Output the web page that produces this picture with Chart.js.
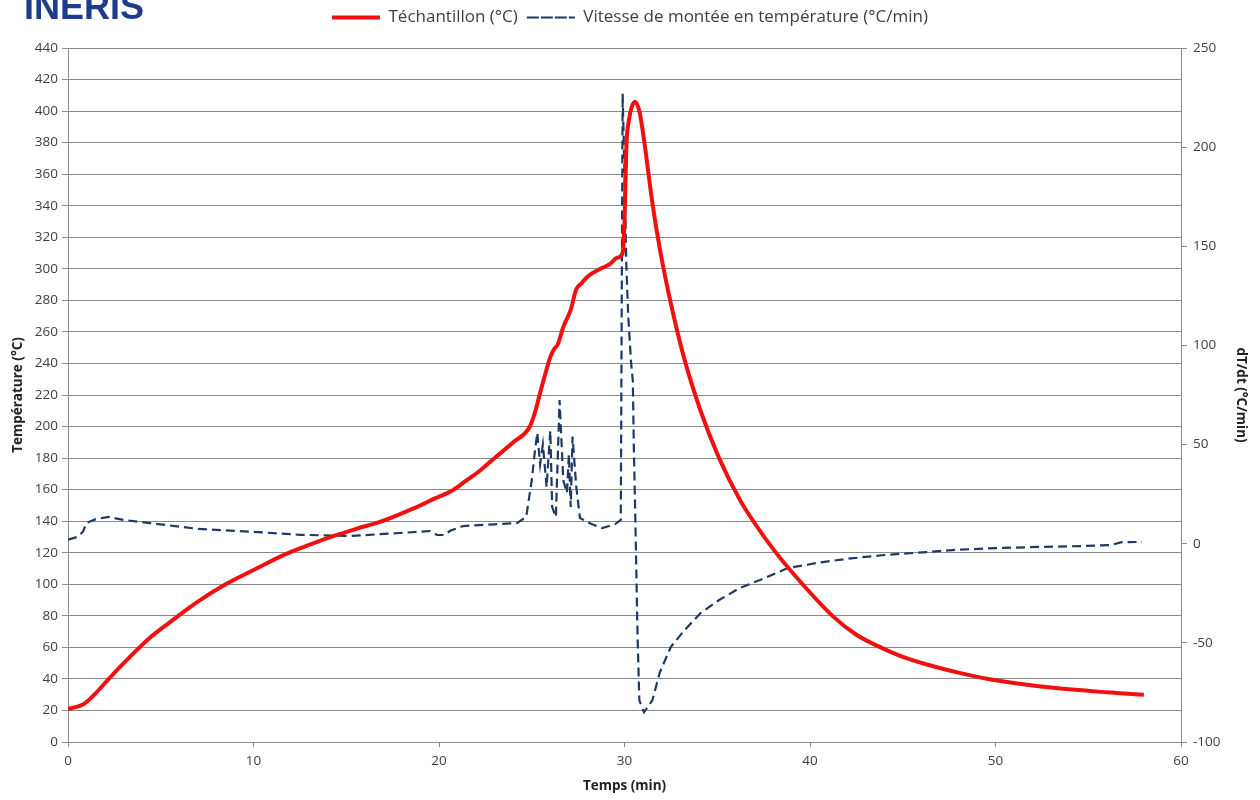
<!DOCTYPE html>
<html>
<head>
<meta charset="utf-8">
<script src="https://cdn.jsdelivr.net/npm/chart.js@4/dist/chart.umd.min.js"></script>
<style>
  body { margin: 0; background: #fff; }
  #wrap { position: relative; width: 1260px; height: 800px; overflow: hidden; }
  #logo { position: absolute; left: 24px; top: -14px; font-family: "Liberation Sans", Arial, sans-serif;
          font-weight: bold; font-size: 36px; color: #1d3c8e; }
</style>
</head>
<body>
<div id="wrap">
  <canvas id="myChart" width="1260" height="800"></canvas>
  <div id="logo">INERIS</div>
</div>
<script>
// Température échantillon (axe gauche)
const tempTime = [0, 0.5, 0.8, 1.0, 1.5, 2.2, 3.0, 4.4, 5.5, 7, 8.5, 10, 11.7, 13, 14.3, 15.5, 16.8, 18, 19, 19.7, 20.3,
  20.8, 21.5, 22.2, 23, 24, 24.9, 25.2, 25.4, 25.7, 26.0, 26.2, 26.4, 26.7, 27.1, 27.4, 27.7, 28.0, 28.7, 29.2, 29.6, 29.9,
  30.0, 30.1, 30.25, 30.4, 30.57, 30.8, 31.05, 31.5, 31.9, 32.5, 33.2, 34.1, 35.1, 36.2, 37.0, 38.1, 39.6, 41.3, 42.5,
  43.8, 45, 46.5, 48, 49.6, 53, 56, 58];
const tempValues = [21, 22.4, 23.8, 25.4, 31, 40, 50, 66, 76, 89, 100, 109, 119, 125, 130.5, 135, 139.5, 145, 150, 154, 157,
  160, 166, 172, 180, 190, 200, 210, 219, 232, 244, 249, 252, 263, 274, 287, 291, 295, 300, 303, 307, 310,
  330, 377, 395, 403, 406, 400, 382, 342, 313, 278, 244, 210, 180, 154, 139, 121, 100, 79, 68,
  60, 54, 48.5, 44, 40, 34.5, 31.5, 30];

// Vitesse de montée en température (axe droit)
const rateTime = [0, 0.5, 0.8, 1.0, 1.5, 2.2, 3.0, 4.4, 7, 10, 12.5, 15.2, 17.9, 19.5, 19.9, 20.3, 20.6, 21.3, 23, 24.2,
  24.7, 25.0, 25.15, 25.3, 25.45, 25.6, 25.8, 26.0, 26.1, 26.3, 26.5, 26.7, 26.9, 27.0, 27.1, 27.2, 27.4, 27.6,
  28.1, 28.8, 29.5, 29.8, 29.9, 30.0, 30.1, 30.2, 30.35, 30.45, 30.5, 30.6, 30.7, 30.8, 31.05, 31.5, 31.9, 32.5,
  33.2, 34.1, 35.1, 36.2, 37.3, 38.8, 40.5, 42.2, 44, 46.3, 48, 50.4, 52.5, 54.6, 56.2, 56.8, 57.9];
const rateValues = [2, 3.4, 6, 10.5, 12.4, 13.5, 12, 10.4, 7.5, 6, 4.5, 3.9, 5.4, 6.4, 4.4, 4.4, 6.5, 8.9, 9.8, 10.4,
  13.5, 32, 45, 56, 40, 50, 28.6, 57, 18.5, 13.5, 72.5, 32, 25.6, 45, 18.5, 54, 28.6, 13,
  10.4, 7.9, 9.9, 12, 227, 187, 140, 115, 92, 82, 50, 5, -45, -79, -85, -79, -65, -52,
  -44, -35, -28.4, -22.4, -18.3, -12.3, -9.5, -7.4, -5.7, -4.2, -3, -2.1, -1.6, -1.2, -0.7, 0.8, 0.9];

const labelsLegend = ['Téchantillon (°C)', 'Vitesse de montée en température (°C/min)'];

function toPoints(xs, ys) {
  return xs.map((x, i) => ({ x: x, y: ys[i] }));
}

const tickFont = { family: 'Open Sans', size: 13.5 };
const titleFont = { family: 'Open Sans', size: 13.5, weight: 'bold' };
const gridColor = '#8a8a8a';

// un peu d'espace sous la légende
const legendSpace = {
  id: 'legendSpace',
  afterInit(chart) {
    const fit = chart.legend.fit;
    chart.legend.fit = function () {
      fit.call(this);
      this.height += 12;
    };
  }
};

const ctx = document.getElementById('myChart').getContext('2d');
const myChart = new Chart(ctx, {
  type: 'line',
  data: {
    datasets: [
      {
        label: labelsLegend[0],
        data: toPoints(tempTime, tempValues),
        yAxisID: 'y',
        borderColor: '#f01010',
        backgroundColor: '#f01010',
        borderWidth: 4,
        pointRadius: 0,
        cubicInterpolationMode: 'monotone'
      },
      {
        label: labelsLegend[1],
        data: toPoints(rateTime, rateValues),
        yAxisID: 'y2',
        borderColor: '#1f3864',
        backgroundColor: '#1f3864',
        borderWidth: 2.2,
        borderDash: [9, 5],
        pointRadius: 0,
        tension: 0
      }
    ]
  },
  options: {
    responsive: false,
    animation: false,
    layout: { padding: { top: 0, right: 0, left: 0, bottom: 0 } },
    plugins: {
      legend: {
        position: 'top',
        labels: {
          color: '#404040',
          font: { family: 'Open Sans', size: 17 },
          boxWidth: 48,
          boxHeight: 0,
          padding: 9
        }
      },
      tooltip: { enabled: false }
    },
    scales: {
      x: {
        type: 'linear',
        min: 0,
        max: 60,
        ticks: { stepSize: 10, color: '#404040', font: tickFont, padding: 6 },
        grid: { drawOnChartArea: false, drawTicks: true, tickLength: 5, color: gridColor },
        border: { color: gridColor },
        title: { display: true, text: 'Temps (min)', color: '#222', font: titleFont, padding: { top: 0, bottom: 6 } },
        afterFit: (s) => { s.height = 58; }
      },
      y: {
        position: 'left',
        min: 0,
        max: 440,
        ticks: { stepSize: 20, color: '#404040', font: tickFont, padding: 4 },
        grid: { color: gridColor, tickLength: 6 },
        border: { color: gridColor },
        title: { display: true, text: 'Température (°C)', color: '#222', font: titleFont, padding: { top: 10, bottom: 0 } },
        afterFit: (s) => { s.width = 68; }
      },
      y2: {
        position: 'right',
        min: -100,
        max: 250,
        ticks: { stepSize: 50, color: '#404040', font: tickFont, padding: 6 },
        grid: { drawOnChartArea: false, tickLength: 6, color: gridColor },
        border: { color: gridColor },
        title: { display: true, text: 'dT/dt (°C/min)', color: '#222', font: titleFont, padding: { top: 11, bottom: 0 } },
        afterFit: (s) => { s.width = 79; }
      }
    }
  },
  plugins: [legendSpace]
});
</script>
</body>
</html>
